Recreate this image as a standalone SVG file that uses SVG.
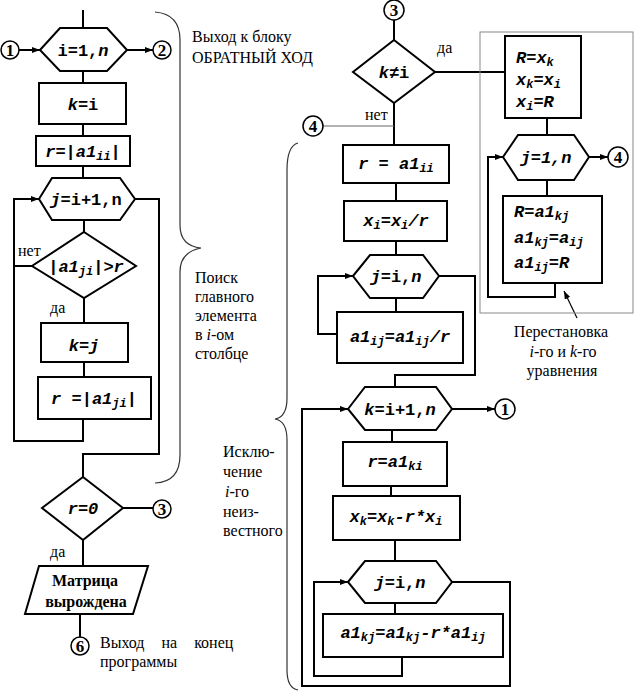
<svg xmlns="http://www.w3.org/2000/svg" width="635" height="696" viewBox="0 0 635 696">
<style>
.ln{stroke:#000;stroke-width:2;fill:none}
.th{stroke:#666;stroke-width:1;fill:none}
.bx{fill:#fff;stroke:#000;stroke-width:2}
.br{stroke:#333;stroke-width:1.2;fill:none}
.t{font-family:"Liberation Serif",serif;font-size:16px;fill:#000}
.m{font-family:"Liberation Mono",monospace;font-weight:bold;font-size:17px;fill:#000}
.i{font-style:italic}
.s{font-size:12px}
.c{fill:#fff;stroke:#000;stroke-width:1.5}
.cn{font-family:"Liberation Serif",serif;font-weight:bold;font-size:17px;text-anchor:middle}
.mid{text-anchor:middle}
</style>
<defs>
<marker id="a" markerWidth="8" markerHeight="6" refX="8" refY="3" orient="auto" markerUnits="userSpaceOnUse">
<path d="M0,0 L8,3 L0,6 Z" fill="#000"/>
</marker>
</defs>
<rect width="635" height="696" fill="#fff"/>
<g id="connectors">
<line class="ln" x1="83" y1="10" x2="83" y2="28"/>
<line class="ln" x1="19" y1="50" x2="40" y2="50" marker-end="url(#a)"/>
<line class="ln" x1="127" y1="50" x2="153" y2="50" marker-end="url(#a)"/>
<line class="ln" x1="83" y1="71" x2="83" y2="83"/>
<line class="ln" x1="83" y1="124" x2="83" y2="136"/>
<line class="ln" x1="83" y1="166" x2="83" y2="178"/>
<line class="ln" x1="84" y1="220" x2="84" y2="232"/>
<polyline class="ln" points="135,199 159,199 159,454 83,454 83,477"/>
<polyline class="ln" points="83,419 83,441 14,441 14,199 39,199" marker-end="url(#a)"/>
<line class="ln" x1="32" y1="266" x2="14" y2="266"/>
<line class="ln" x1="84" y1="298" x2="84" y2="323"/>
<line class="ln" x1="84" y1="362" x2="84" y2="377"/>
<line class="ln" x1="123" y1="508" x2="153" y2="508"/>
<line class="ln" x1="83" y1="540" x2="83" y2="566"/>
<line class="ln" x1="80" y1="614" x2="80" y2="637"/>
<line class="ln" x1="394" y1="20" x2="394" y2="40"/>
<line class="ln" x1="435" y1="72" x2="505" y2="72"/>
<line class="ln" x1="394" y1="103" x2="394" y2="145"/>
<line class="th" x1="323" y1="126" x2="394" y2="126"/>
<line class="ln" x1="396" y1="183" x2="396" y2="201"/>
<line class="ln" x1="396" y1="241" x2="396" y2="255"/>
<line class="ln" x1="396" y1="298" x2="396" y2="312"/>
<polyline class="ln" points="337,334 318,334 318,276 353,276" marker-end="url(#a)"/>
<polyline class="ln" points="439,276 475,276 475,375 395,375 395,387"/>
<line class="ln" x1="452" y1="409" x2="495" y2="409" marker-end="url(#a)"/>
<line class="ln" x1="392" y1="430" x2="392" y2="442"/>
<line class="ln" x1="391" y1="486" x2="391" y2="496"/>
<line class="ln" x1="395" y1="540" x2="395" y2="561"/>
<line class="ln" x1="395" y1="603" x2="395" y2="614"/>
<polyline class="ln" points="402,657 402,676 314,676 314,582 348,582" marker-end="url(#a)"/>
<polyline class="ln" points="452,582 510,582 510,686 302,686 302,409 348,409" marker-end="url(#a)"/>
<line class="ln" x1="547" y1="118" x2="547" y2="135"/>
<line class="ln" x1="589" y1="157" x2="608" y2="157" marker-end="url(#a)"/>
<line class="ln" x1="547" y1="180" x2="547" y2="196"/>
<polyline class="ln" points="555,283 555,297 488,297 488,157 503,157" marker-end="url(#a)"/>
<line x1="577" y1="318" x2="564" y2="291" stroke="#000" stroke-width="1.2" marker-end="url(#a)"/>
</g>
<g id="braces">
<path class="br" d="M155,12 Q180,14 180,40 L180,225 Q180,246 201,248 Q180,252 180,272 L180,455 Q180,482 155,483"/>
<path class="br" d="M298,143 Q287,146 287,170 L287,398 Q287,417 275,419 Q287,421 287,440 L287,670 Q287,688 298,690"/>
</g>
<rect id="swap-frame" x="480" y="32" width="153" height="281" fill="none" stroke="#888" stroke-width="1"/>
<g id="c1-left"><circle class="c" cx="10" cy="50" r="9"/><text class="cn" x="10" y="56">1</text></g>
<g id="c2"><circle class="c" cx="162" cy="50" r="9"/><text class="cn" x="162" y="56">2</text></g>
<g id="loop-i"><polygon class="bx" points="40,50 60,28 107,28 127,50 107,71 60,71"/><text class="m mid" x="83" y="56">i=1,<tspan class="i">n</tspan></text></g>
<g id="k-eq-i"><rect class="bx" x="39" y="83" width="87" height="41"/><text class="m mid" x="83" y="110"><tspan class="i">k</tspan>=i</text></g>
<g id="r-abs"><rect class="bx" x="36" y="136" width="94" height="30"/><text class="m mid" x="83" y="157"><tspan class="i">r</tspan>=|<tspan class="i">a1</tspan><tspan class="s i" dy="3">ii</tspan><tspan dy="-3">|</tspan></text></g>
<g id="loop-j1"><polygon class="bx" points="39,199 52,178 120,178 135,199 120,220 52,220"/><text class="m mid" x="86" y="205"><tspan class="i">j</tspan>=i+1,n</text></g>
<g id="cmp"><polygon class="bx" points="84,232 136,266 84,298 32,266"/><text class="m mid" x="86" y="272" font-size="16">|<tspan class="i">a1</tspan><tspan class="s i" dy="3">ji</tspan><tspan dy="-3">|&gt;</tspan><tspan class="i">r</tspan></text></g>
<text class="t" x="18" y="256">нет</text>
<text class="t" x="50" y="313">да</text>
<g id="k-eq-j"><rect class="bx" x="41" y="323" width="87" height="39"/><text class="m mid" x="84" y="351"><tspan class="i">k</tspan>=<tspan class="i">j</tspan></text></g>
<g id="r-abs2"><rect class="bx" x="38" y="377" width="113" height="42"/><text class="m mid" x="94" y="404" xml:space="preserve"><tspan class="i">r</tspan> =|<tspan class="i">a1</tspan><tspan class="s i" dy="3">ji</tspan><tspan dy="-3">|</tspan></text></g>
<g id="r-zero"><polygon class="bx" points="83,477 123,508 83,540 42,508"/><text class="m mid i" x="83" y="514">r=0</text></g>
<g id="c3-left"><circle class="c" cx="162" cy="509" r="9"/><text class="cn" x="162" y="515">3</text></g>
<text class="t" x="50" y="557">да</text>
<g id="singular"><polygon class="bx" points="39,566 148,566 133,614 25,614"/><text class="t mid" x="85" y="586" font-weight="bold">Матрица</text><text class="t mid" x="86" y="607" font-weight="bold">вырождена</text></g>
<g id="c6"><circle class="c" cx="80" cy="646" r="9"/><text class="cn" x="80" y="652">6</text></g>
<text class="t" x="100" y="648" word-spacing="13">Выход на конец</text>
<text class="t" x="100" y="667">программы</text>
<text class="t" x="192" y="42">Выход к блоку</text>
<text class="t" x="192" y="63">ОБРАТНЫЙ ХОД</text>
<text class="t" x="195" y="283">Поиск</text>
<text class="t" x="195" y="302">главного</text>
<text class="t" x="195" y="321">элемента</text>
<text class="t" x="195" y="340">в <tspan class="i">i</tspan>-ом</text>
<text class="t" x="195" y="359">столбце</text>
<text class="t" x="223" y="457">Исклю-</text>
<text class="t" x="223" y="477">чение</text>
<text class="t" x="225" y="497"><tspan class="i">i</tspan>-го</text>
<text class="t" x="223" y="517">неиз-</text>
<text class="t" x="223" y="536">вестного</text>
<g id="c3-top"><circle class="c" cx="394" cy="10" r="10"/><text class="cn" x="394" y="16">3</text></g>
<g id="k-ne-i"><polygon class="bx" points="394,40 435,72 394,103 353,72"/><text class="m mid" x="394" y="78"><tspan class="i">k</tspan>≠i</text></g>
<text class="t" x="437" y="53">да</text>
<text class="t" x="365" y="120">нет</text>
<g id="c4-left"><circle class="c" cx="313" cy="126" r="10"/><text class="cn" x="313" y="132">4</text></g>
<g id="r-a1ii"><rect class="bx" x="343" y="145" width="106" height="38"/><text class="m mid" x="396" y="169" xml:space="preserve"><tspan class="i">r</tspan> = <tspan class="i">a1</tspan><tspan class="s i" dy="3">ii</tspan></text></g>
<g id="xi-div"><rect class="bx" x="344" y="201" width="103" height="40"/><text class="m mid i" x="396" y="226">x<tspan class="s" dy="3">i</tspan><tspan dy="-3">=x</tspan><tspan class="s" dy="3">i</tspan><tspan dy="-3">/r</tspan></text></g>
<g id="loop-j2"><polygon class="bx" points="353,276 370,255 423,255 439,276 423,298 370,298"/><text class="m mid" x="396" y="282"><tspan class="i">j</tspan>=i,<tspan class="i">n</tspan></text></g>
<g id="a-div"><rect class="bx" x="337" y="312" width="126" height="51"/><text class="m mid i" x="400" y="342">a1<tspan class="s" dy="3">ij</tspan><tspan dy="-3">=a1</tspan><tspan class="s" dy="3">ij</tspan><tspan dy="-3">/r</tspan></text></g>
<g id="loop-k"><polygon class="bx" points="348,409 365,387 436,387 452,409 436,430 365,430"/><text class="m mid" x="400" y="415"><tspan class="i">k</tspan>=i+1,<tspan class="i">n</tspan></text></g>
<g id="c1-right"><circle class="c" cx="505" cy="409" r="10"/><text class="cn" x="505" y="415">1</text></g>
<g id="r-a1ki"><rect class="bx" x="343" y="442" width="104" height="44"/><text class="m mid i" x="395" y="467">r=a1<tspan class="s" dy="3">ki</tspan></text></g>
<g id="xk-upd"><rect class="bx" x="333" y="496" width="127" height="44"/><text class="m mid i" x="396" y="522">x<tspan class="s" dy="3">k</tspan><tspan dy="-3">=x</tspan><tspan class="s" dy="3">k</tspan><tspan dy="-3">-r*x</tspan><tspan class="s" dy="3">i</tspan></text></g>
<g id="loop-j3"><polygon class="bx" points="348,582 365,561 436,561 452,582 436,603 365,603"/><text class="m mid" x="400" y="588"><tspan class="i">j</tspan>=i,<tspan class="i">n</tspan></text></g>
<g id="a-upd"><rect class="bx" x="323" y="614" width="180" height="43"/><text class="m mid i" x="413" y="638">a1<tspan class="s" dy="3">kj</tspan><tspan dy="-3">=a1</tspan><tspan class="s" dy="3">kj</tspan><tspan dy="-3">-r*a1</tspan><tspan class="s" dy="3">ij</tspan></text></g>
<g id="swap-x"><rect class="bx" x="505" y="36" width="76" height="82"/>
<text class="m i" x="516" y="63">R=x<tspan class="s" dy="3">k</tspan></text>
<text class="m i" x="516" y="85">x<tspan class="s" dy="3">k</tspan><tspan dy="-3">=x</tspan><tspan class="s" dy="3">i</tspan></text>
<text class="m i" x="516" y="107">x<tspan class="s" dy="3">i</tspan><tspan dy="-3">=R</tspan></text></g>
<g id="loop-j4"><polygon class="bx" points="503,157 518,135 574,135 589,157 574,180 518,180"/><text class="m mid i" x="546" y="163">j=1,n</text></g>
<g id="c4-right"><circle class="c" cx="618" cy="157" r="10"/><text class="cn" x="618" y="163">4</text></g>
<g id="swap-a"><rect class="bx" x="503" y="196" width="99" height="87"/>
<text class="m i" x="514" y="217">R=a1<tspan class="s" dy="3">kj</tspan></text>
<text class="m i" x="514" y="243">a1<tspan class="s" dy="3">kj</tspan><tspan dy="-3">=a</tspan><tspan class="s" dy="3">ij</tspan></text>
<text class="m i" x="514" y="268">a1<tspan class="s" dy="3">ij</tspan><tspan dy="-3">=R</tspan></text></g>
<text class="t mid" x="561" y="337">Перестановка</text>
<text class="t mid" x="563" y="357"><tspan class="i">i</tspan>-го и <tspan class="i">k</tspan>-го</text>
<text class="t mid" x="562" y="376">уравнения</text>
</svg>
